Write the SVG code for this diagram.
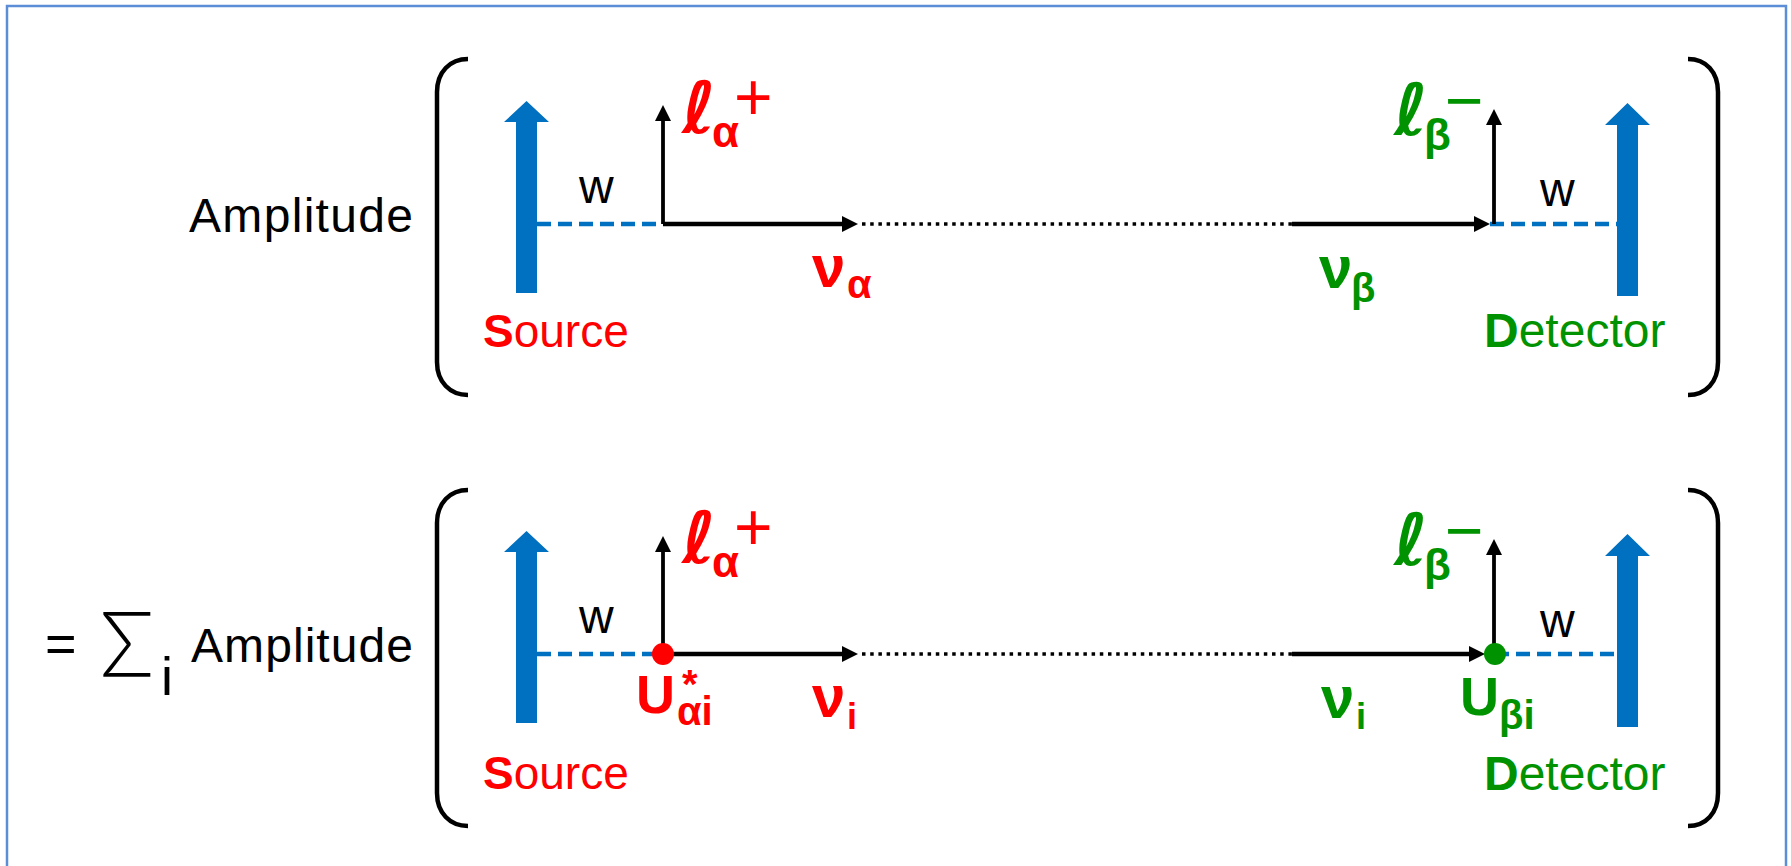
<svg xmlns="http://www.w3.org/2000/svg" width="1791" height="866" viewBox="0 0 1791 866">
<style>
.txt{font-family:"Liberation Sans",Arial,sans-serif;fill:#000}
.red{fill:#FF0000}
.grn{fill:#009200}
.b{font-weight:bold}
.ell{font-family:"DejaVu Sans",sans-serif;font-weight:bold;font-style:italic}
.bracket{fill:none;stroke:#000;stroke-width:4.5;stroke-linecap:butt}
.beam{fill:#0070C0}
.wline{fill:none;stroke:#0070C0;stroke-width:4.5;stroke-dasharray:14 7}
.nu{fill:none;stroke:#000;stroke-width:4.5}
.lep{fill:none;stroke:#000;stroke-width:3.8}
.dots{fill:none;stroke:#000;stroke-width:3.5;stroke-dasharray:3.5 4.7}
.sig{font-family:Lato,"Liberation Sans",sans-serif;font-weight:300;font-size:90px;fill:#000}
</style>
<defs>
<marker id="ah" viewBox="0 0 16 16" markerWidth="16" markerHeight="16" markerUnits="userSpaceOnUse" refX="4" refY="8" orient="auto">
<path d="M0,0 L16,8 L0,16 z" fill="#000"/>
</marker>
</defs>
<rect id="frame" x="7" y="6" width="1779" height="900" fill="#fff" stroke="#5B8ED6" stroke-width="2.5"/>

<g id="connectors">
<line class="wline" x1="537" y1="224" x2="663" y2="224"/>
<line class="wline" x1="1490" y1="224" x2="1617" y2="224"/>
<line class="nu" x1="663" y1="224" x2="846" y2="224" marker-end="url(#ah)"/>
<line class="dots" x1="862" y1="224" x2="1292" y2="224"/>
<line class="nu" x1="1292" y1="224" x2="1478" y2="224" marker-end="url(#ah)"/>
<line class="lep" x1="663" y1="224" x2="663" y2="117" marker-end="url(#ah)"/>
<line class="lep" x1="1494" y1="224" x2="1494" y2="121" marker-end="url(#ah)"/>
<line class="wline" x1="537" y1="654" x2="663" y2="654"/>
<line class="wline" x1="1495" y1="654" x2="1617" y2="654"/>
<line class="nu" x1="663" y1="654" x2="846" y2="654" marker-end="url(#ah)"/>
<line class="dots" x1="862" y1="654" x2="1292" y2="654"/>
<line class="nu" x1="1292" y1="654" x2="1473" y2="654" marker-end="url(#ah)"/>
<line class="lep" x1="663" y1="654" x2="663" y2="548" marker-end="url(#ah)"/>
<line class="lep" x1="1494" y1="654" x2="1494" y2="551" marker-end="url(#ah)"/>
</g>

<g id="row1">
<text class="txt" x="189" y="232" font-size="48" textLength="224">Amplitude</text>
<path class="bracket" d="M468,59 C450,59 437,72 437,92 L437,362 C437,382 450,395 468,395"/>
<path class="bracket" d="M1688,59 C1706,59 1718,72 1718,92 L1718,362 C1718,382 1706,395 1688,395"/>
<g id="source1">
<polygon class="beam" points="516,293 516,122 504,122 526.5,101 549,122 537,122 537,293"/>
<text class="txt red" x="483" y="347" font-size="46"><tspan class="b">S</tspan>ource</text>
</g>
<g id="detector1">
<polygon class="beam" points="1617,296 1617,125 1605,125 1627.5,103 1650,125 1638,125 1638,296"/>
<text class="txt grn" x="1484" y="347" font-size="48"><tspan class="b">D</tspan>etector</text>
</g>
<text class="txt" x="579" y="203" font-size="48">w</text>
<text class="txt" x="1540" y="206" font-size="48">w</text>
<g id="lepton-a1">
<text class="ell red" x="682" y="133" font-size="72">ℓ</text>
<text class="txt red b" x="712" y="147" font-size="44">α</text>
<text class="txt red" x="734" y="120" font-size="66">+</text>
</g>
<g id="lepton-b1">
<text class="ell grn" x="1394" y="135" font-size="72">ℓ</text>
<text class="txt grn b" x="1424" y="150" font-size="44">β</text>
<text class="txt grn" x="1445" y="123" font-size="66">−</text>
</g>
<g id="nu-a1">
<text class="txt red b" x="812" y="287" font-size="60">ν</text>
<text class="txt red b" x="847" y="298" font-size="40">α</text>
</g>
<g id="nu-b1">
<text class="txt grn b" x="1319" y="288" font-size="60">ν</text>
<text class="txt grn b" x="1351" y="302" font-size="40">β</text>
</g>
</g>

<g id="row2">
<text class="txt" x="45" y="662" font-size="54">=</text>
<text class="sig" x="100" y="676">Σ</text>
<text class="txt" x="161" y="695" font-size="54">i</text>
<text class="txt" x="191" y="662" font-size="48" textLength="222">Amplitude</text>
<path class="bracket" d="M468,490 C450,490 437,503 437,523 L437,793 C437,813 450,826 468,826"/>
<path class="bracket" d="M1688,490 C1706,490 1718,503 1718,523 L1718,793 C1718,813 1706,826 1688,826"/>
<g id="source2">
<polygon class="beam" points="516,723 516,552 504,552 526.5,531 549,552 537,552 537,723"/>
<text class="txt red" x="483" y="789" font-size="46"><tspan class="b">S</tspan>ource</text>
</g>
<g id="detector2">
<polygon class="beam" points="1617,727 1617,556 1605,556 1627.5,534 1650,556 1638,556 1638,727"/>
<text class="txt grn" x="1484" y="790" font-size="48"><tspan class="b">D</tspan>etector</text>
</g>
<text class="txt" x="579" y="633" font-size="48">w</text>
<text class="txt" x="1540" y="637" font-size="48">w</text>
<g id="vertex-a">
<circle cx="663" cy="654" r="11" fill="#FF0000"/>
<text class="txt red b" x="636" y="713" font-size="54">U</text>
<text class="txt red b" x="682" y="698" font-size="40">*</text>
<text class="txt red b" x="677" y="725" font-size="40">αi</text>
</g>
<g id="vertex-b">
<circle cx="1495" cy="654" r="11" fill="#009200"/>
<text class="txt grn b" x="1460" y="715" font-size="54">U</text>
<text class="txt grn b" x="1499" y="729" font-size="40">βi</text>
</g>
<g id="lepton-a2">
<text class="ell red" x="682" y="563" font-size="72">ℓ</text>
<text class="txt red b" x="712" y="577" font-size="44">α</text>
<text class="txt red" x="734" y="550" font-size="66">+</text>
</g>
<g id="lepton-b2">
<text class="ell grn" x="1394" y="565" font-size="72">ℓ</text>
<text class="txt grn b" x="1424" y="580" font-size="44">β</text>
<text class="txt grn" x="1445" y="553" font-size="66">−</text>
</g>
<g id="nu-a2">
<text class="txt red b" x="812" y="717" font-size="60">ν</text>
<text class="txt red b" x="847" y="729" font-size="36">i</text>
</g>
<g id="nu-b2">
<text class="txt grn b" x="1321" y="718" font-size="60">ν</text>
<text class="txt grn b" x="1356" y="729" font-size="36">i</text>
</g>
</g>
</svg>
